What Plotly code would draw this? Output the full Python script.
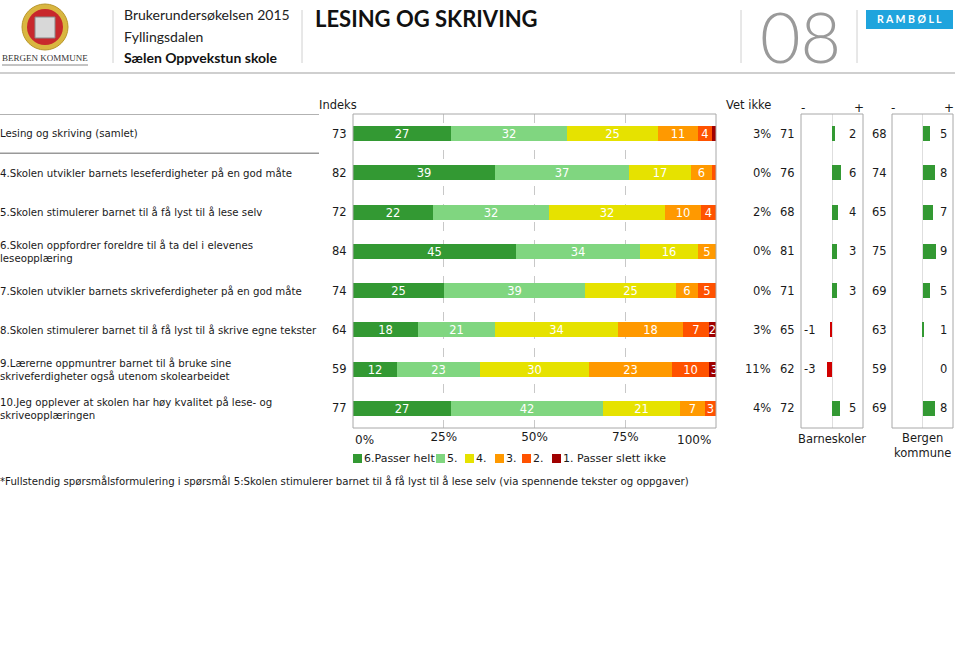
import plotly.graph_objects as go

W, H = 959, 654

# ---------------- data ----------------
categories = [
    "Lesing og skriving (samlet)",
    "4.Skolen utvikler barnets leseferdigheter på en god måte",
    "5.Skolen stimulerer barnet til å få lyst til å lese selv",
    "6.Skolen oppfordrer foreldre til å ta del i elevenes<br>leseopplæring",
    "7.Skolen utvikler barnets skriveferdigheter på en god måte",
    "8.Skolen stimulerer barnet til å få lyst til å skrive egne tekster",
    "9.Lærerne oppmuntrer barnet til å bruke sine<br>skriveferdigheter også utenom skolearbeidet",
    "10.Jeg opplever at skolen har høy kvalitet på lese- og<br>skriveopplæringen",
]
indeks = [73, 82, 72, 84, 74, 64, 59, 77]
s6 = [27, 39, 22, 45, 25, 18, 12, 27]
s5 = [32, 37, 32, 34, 39, 21, 23, 42]
s4 = [25, 17, 32, 16, 25, 34, 30, 21]
s3 = [11, 6, 10, 5, 6, 18, 23, 7]
s2 = [4, 1, 4, 0, 5, 7, 10, 3]
s1 = [1, 0, 0, 0, 1, 2, 3, 0]
vet_ikke = [3, 0, 2, 0, 0, 3, 11, 4]
barn_idx = [71, 76, 68, 81, 71, 65, 62, 72]
barn_diff = [2, 6, 4, 3, 3, -1, -3, 5]
berg_idx = [68, 74, 65, 75, 69, 63, 59, 69]
berg_diff = [5, 8, 7, 9, 5, 1, 0, 8]
series_names = ["6.Passer helt", "5.", "4.", "3.", "2.", "1. Passer slett ikke"]
series_vals = [s6, s5, s4, s3, s2, s1]
series_colors = ["#339933", "#80d680", "#e6e200", "#ff9900", "#ff5200", "#a00000"]
ticks = [0, 25, 50, 75, 100]

GREEN = "#339933"
RED = "#d00000"
FONT = "DejaVu Sans"
TXT = "#1a1a1a"


def px(x):
    return x / W


def py(y):
    return 1 - y / H


rows = list(range(len(categories)))
fig = go.Figure()

for name, vals, col in zip(series_names, series_vals, series_colors):
    fig.add_trace(go.Bar(
        x=vals, y=rows, orientation="h", name=name,
        marker=dict(color=col, line=dict(width=0)), width=0.38,
        text=[str(v) if v >= 2 else "" for v in vals],
        textposition="inside", insidetextanchor="middle", textangle=0,
        constraintext="none",
        textfont=dict(color="white", size=11.5, family=FONT),
        xaxis="x", yaxis="y", showlegend=False, hoverinfo="x+name",
    ))

for diff, ax in ((barn_diff, "x2"), (berg_diff, "x3")):
    fig.add_trace(go.Bar(
        x=diff, y=rows, orientation="h",
        marker=dict(color=[GREEN if v >= 0 else RED for v in diff], line=dict(width=0)),
        width=0.38, xaxis=ax, yaxis="y", showlegend=False, textposition="none",
    ))

ydom = [py(428), py(114)]
fig.update_layout(
    width=W, height=H, margin=dict(l=0, r=0, t=0, b=0),
    paper_bgcolor="white", plot_bgcolor="white",
    barmode="stack", bargap=0,
    font=dict(family=FONT, size=11, color=TXT),
    xaxis=dict(domain=[px(353), px(716)], range=[0, 100], anchor="y",
               tickvals=ticks[1:-1], ticktext=[f"{t}%" for t in ticks[1:-1]],
               showgrid=True, gridcolor="#c8c8c8", griddash="dash", gridwidth=1,
               zeroline=False, showline=False, ticks="", tickfont=dict(size=12, color=TXT),
               fixedrange=True),
    xaxis2=dict(domain=[px(801), px(863)], range=[-20, 20], anchor="y",
                showticklabels=False, showgrid=False, zeroline=True,
                zerolinecolor="#dedede", zerolinewidth=1, ticks="", fixedrange=True),
    xaxis3=dict(domain=[px(892), px(953)], range=[-20, 20], anchor="y",
                showticklabels=False, showgrid=False, zeroline=True,
                zerolinecolor="#dedede", zerolinewidth=1, ticks="", fixedrange=True),
    yaxis=dict(domain=ydom, range=[7.5, -0.5], anchor="x", showticklabels=False,
               showgrid=False, zeroline=False, ticks="", fixedrange=True),
)

shapes = []
ann = []


def A(**kw):
    kw.setdefault("showarrow", False)
    kw.setdefault("yanchor", "middle")
    kw.setdefault("xanchor", "left")
    ann.append(kw)


# panel borders
for ax in ("x", "x2", "x3"):
    shapes.append(dict(type="rect", xref=f"{ax} domain", yref="y domain",
                       x0=0, x1=1, y0=0, y1=1, line=dict(color="#a8a8a8", width=1),
                       layer="above"))

# end tick labels of main axis (inward aligned)
A(x=ticks[0], xref="x", y=py(440), yref="paper", text=f"{ticks[0]}%",
  xanchor="left", font=dict(size=12))
A(x=ticks[-1], xref="x", y=py(440), yref="paper", text=f"{ticks[-1]}%",
  xanchor="right", xshift=-3, font=dict(size=12))

# row lines around total row
for yy in (-0.5, 0.5):
    shapes.append(dict(type="line", xref="paper", yref="y", x0=0, x1=px(319),
                       y0=yy, y1=yy, line=dict(color="#999999", width=1.5)))

for i, lab in enumerate(categories):
    A(x=0, xref="paper", y=i, yref="y", text=lab, align="left", xshift=-2,
      font=dict(size=10.2))
    A(x=px(349), xref="paper", y=i, yref="y", text=str(indeks[i]),
      xanchor="right", font=dict(size=11.5))
    A(x=px(773), xref="paper", y=i, yref="y", text=f"{vet_ikke[i]}%",
      xanchor="right", font=dict(size=11.5))
    A(x=px(797), xref="paper", y=i, yref="y", text=str(barn_idx[i]),
      xanchor="right", font=dict(size=11.5))
    A(x=px(889), xref="paper", y=i, yref="y", text=str(berg_idx[i]),
      xanchor="right", font=dict(size=11.5))
    for diff, ax in ((barn_diff, "x2"), (berg_diff, "x3")):
        v = diff[i]
        A(x=13.5 if v >= 0 else -14.5, xref=ax, y=i, yref="y", text=str(v),
          xanchor="center", font=dict(size=11.5))

# column headers
A(x=px(317), y=py(105), xref="paper", yref="paper", text="Indeks", font=dict(size=11.5))
A(x=px(773), y=py(105), xref="paper", yref="paper", text="Vet ikke",
  xanchor="right", font=dict(size=11.5))
for c0, c1 in ((803, 859), (893, 949)):
    A(x=px(c0), y=py(108), xref="paper", yref="paper", text="-",
      xanchor="center", font=dict(size=12))
    A(x=px(c1), y=py(108), xref="paper", yref="paper", text="+",
      xanchor="center", font=dict(size=12))
A(x=0.5, xref="x2 domain", y=py(439), yref="paper", text="Barneskoler",
  xanchor="center", font=dict(size=11.5))
A(x=0.5, xref="x3 domain", y=py(445), yref="paper", text="Bergen<br>kommune",
  xanchor="center", font=dict(size=11.5))

# legend
leg_sq = [353, 436, 465, 495, 522, 552]
for xs, name, col in zip(leg_sq, series_names, series_colors):
    shapes.append(dict(type="rect", xref="paper", yref="paper", x0=px(xs), x1=px(xs + 9),
                       y0=py(463), y1=py(454), fillcolor=col, line=dict(width=0)))
    A(x=px(xs + 9), y=py(458.5), xref="paper", yref="paper", text=name,
      font=dict(size=11))

# footnote
A(x=0, y=py(481), xref="paper", yref="paper", xshift=-2,
  text="*Fullstendig spørsmålsformulering i spørsmål 5:Skolen stimulerer barnet til å få lyst til å lese selv (via spennende tekster og oppgaver)",
  font=dict(size=10.2))

# ---------------- header ----------------
for xv in (113, 302, 741, 857):
    shapes.append(dict(type="line", xref="paper", yref="paper", x0=px(xv), x1=px(xv),
                       y0=py(10), y1=py(63), line=dict(color="#d0d0d0", width=1)))
shapes.append(dict(type="line", xref="paper", yref="paper", x0=0, x1=px(955),
                   y0=py(73), y1=py(73), line=dict(color="#cfcfcf", width=2)))
# coat of arms (simplified)
shapes.append(dict(type="circle", xref="paper", yref="paper", x0=px(22), x1=px(68),
                   y0=py(50), y1=py(4), fillcolor="#d9b640", line=dict(color="#b8962a", width=1)))
shapes.append(dict(type="circle", xref="paper", yref="paper", x0=px(27), x1=px(63),
                   y0=py(45), y1=py(9), fillcolor="#c8282c", line=dict(width=0)))
shapes.append(dict(type="rect", xref="paper", yref="paper", x0=px(35), x1=px(55),
                   y0=py(38), y1=py(17), fillcolor="#d8d8d8", line=dict(color="#888", width=1)))
shapes.append(dict(type="line", xref="paper", yref="paper", x0=px(2), x1=px(88),
                   y0=py(65), y1=py(65), line=dict(color="#888", width=1)))
A(x=px(45), y=py(58), xref="paper", yref="paper", text="BERGEN KOMMUNE",
  xanchor="center", font=dict(size=9, family="Liberation Serif", color="#333"))

A(x=px(122), y=py(15), xref="paper", yref="paper", text="Brukerundersøkelsen 2015",
  font=dict(size=14, family="Lato", color="#222"))
A(x=px(122), y=py(36), xref="paper", yref="paper", text="Fyllingsdalen",
  font=dict(size=14, family="Lato", color="#222"))
A(x=px(122), y=py(58), xref="paper", yref="paper", text="<b>Sælen Oppvekstun skole</b>",
  font=dict(size=14, family="Lato", color="#111"))
A(x=px(313), y=py(18), xref="paper", yref="paper", text="<b>LESING OG SKRIVING</b>",
  font=dict(size=22, family="Lato", color="#111"))
A(x=px(800), y=py(36), xref="paper", yref="paper", text="08", height=64,
  xanchor="center", font=dict(size=70, family="Lato", color="#9a9a9a", weight=300))
shapes.append(dict(type="rect", xref="paper", yref="paper", x0=px(866), x1=px(953),
                   y0=py(29), y1=py(10), fillcolor="#1fa4dd", line=dict(width=0)))
A(x=px(909.5), y=py(19.5), xref="paper", yref="paper", text="<b>R A M B Ø L L</b>",
  xanchor="center", font=dict(size=10.5, family="Lato", color="white"))

fig.update_layout(shapes=shapes, annotations=ann)
fig.write_html("out.html", config={"displayModeBar": False},
               post_script="document.body.style.margin='0';document.body.style.overflow='hidden';")
